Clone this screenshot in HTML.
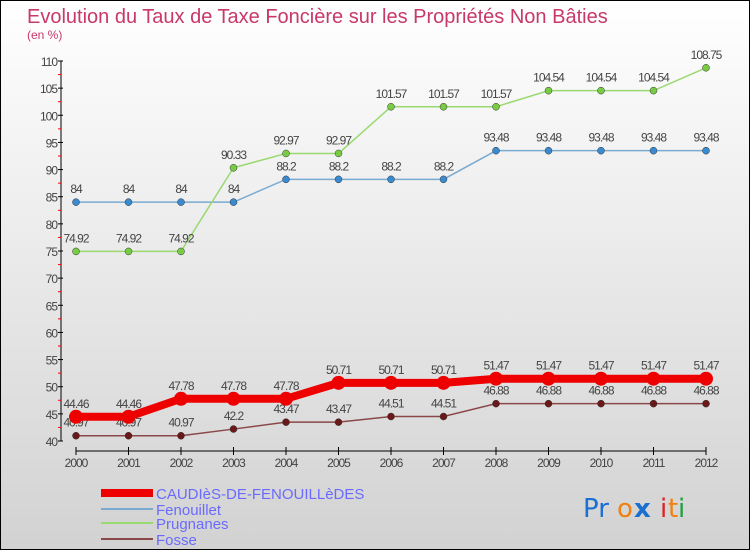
<!DOCTYPE html>
<html><head><meta charset="utf-8"><style>
body{margin:0}
#c{position:relative;width:748px;height:548px;border:1px solid #000;background:linear-gradient(#fff,#d2d2d2);font-family:"Liberation Sans",sans-serif;overflow:hidden}
</style></head><body>
<div id="c">
<svg id="s" width="748" height="548" xmlns="http://www.w3.org/2000/svg" style="position:absolute;left:0;top:0">
<text x="26" y="22" font-size="20" fill="#c8386a">Evolution du Taux de Taxe Foncière sur les Propriétés Non Bâties</text>
<text x="26" y="38" font-size="12" fill="#c8386a">(en %)</text>
<g id="axes"></g><g id="series"></g>
<g>
<line x1="100" y1="492" x2="152" y2="492" stroke="#e00" stroke-width="8"/>
<text x="155" y="498" font-size="15" fill="#6a6aff">CAUDIèS-DE-FENOUILLèDES</text>
<line x1="100" y1="508" x2="152" y2="508" stroke="#7aaad0" stroke-width="2"/>
<text x="155" y="514" font-size="15" fill="#6a6aff">Fenouillet</text>
<line x1="100" y1="522" x2="152" y2="522" stroke="#99d970" stroke-width="2"/>
<text x="155" y="528" font-size="15" fill="#6a6aff">Prugnanes</text>
<line x1="100" y1="538" x2="152" y2="538" stroke="#8a4848" stroke-width="2"/>
<text x="155" y="544" font-size="15" fill="#6a6aff">Fosse</text>
</g>
<g font-size="26" font-family="DejaVu Sans, sans-serif">
<text x="582" y="516" fill="#1a6fd0">Pr</text><text x="616" y="516" fill="#f08010">o</text><text x="633" y="516" fill="#1a6fd0" font-weight="bold">x</text><text x="659" y="516" fill="#e02020">i</text><text x="667" y="516" fill="#f08010">t</text><text x="677" y="516" fill="#20a040">i</text>
</g>
</svg>
</div>
<script>
const years=[2000,2001,2002,2003,2004,2005,2006,2007,2008,2009,2010,2011,2012];
const yTicks=[40,45,50,55,60,65,70,75,80,85,90,95,100,105,110];
const caudies=[44.46,44.46,47.78,47.78,47.78,50.71,50.71,50.71,51.47,51.47,51.47,51.47,51.47];
const fenouillet=[84,84,84,84,88.2,88.2,88.2,88.2,93.48,93.48,93.48,93.48,93.48];
const prugnanes=[74.92,74.92,74.92,90.33,92.97,92.97,101.57,101.57,101.57,104.54,104.54,104.54,108.75];
const fosse=[40.97,40.97,40.97,42.2,43.47,43.47,44.51,44.51,46.88,46.88,46.88,46.88,46.88];
const NS="http://www.w3.org/2000/svg";
function X(i){return 75+i*52.5;}
function Y(v){return 440-(v-40)*(380/70);}
function mk(t,a,p){const e=document.createElementNS(NS,t);for(const k in a)e.setAttribute(k,a[k]);p.appendChild(e);return e;}
const ax=document.getElementById('axes');
let l=mk('line',{x1:60,y1:Y(110),x2:60,y2:Y(40),stroke:'#000'},ax);


l=mk('line',{x1:X(0),y1:450,x2:X(12),y2:450,stroke:'#000'},ax);


yTicks.forEach(v=>{
 mk('line',{x1:57,y1:Y(v),x2:62,y2:Y(v),stroke:'#000'},ax);
 if(v<110)mk('line',{x1:57,y1:Y(v+2.5),x2:60,y2:Y(v+2.5),stroke:'#f00'},ax);
 const t=mk('text',{x:56,y:Y(v)+5,'font-size':12,'text-anchor':'end',fill:'#444','letter-spacing':'-1'},ax);
 t.textContent=v;
 
 
});
years.forEach((yr,i)=>{
 mk('line',{x1:X(i),y1:446,x2:X(i),y2:454,stroke:'#000'},ax);
 const t=mk('text',{x:X(i),y:466,'font-size':12,'text-anchor':'middle',fill:'#444','letter-spacing':'-1'},ax);
 t.textContent=yr;
 
 
});
const sg=document.getElementById('series');
function draw(data,name,color,w,r,mc){
 const g=mk('g',{},sg);
 
 
 mk('polyline',{points:data.map((v,i)=>X(i)+','+Y(v)).join(' '),fill:'none',stroke:color,'stroke-width':w},g);
 data.forEach((v,i)=>{
  const c=mk('circle',{cx:X(i),cy:Y(v),r:r,fill:mc,stroke:w>3?'none':'#333','stroke-width':0.5},g);
  
  
  const t=mk('text',{x:X(i),y:Y(v)-9,'font-size':12,'text-anchor':'middle',fill:'#444','letter-spacing':'-1'},g);
  t.textContent=v;
 });
}
draw(fenouillet,'fenouillet','#7aaad0',1.5,3.5,'#3a8ad0');
draw(prugnanes,'prugnanes','#99d970',1.5,3.5,'#77cc44');
draw(fosse,'fosse','#8a4848',1.5,3.5,'#6a1818');
draw(caudies,'caudies','#e00',8,7,'#e00');
</script>
</body></html>
